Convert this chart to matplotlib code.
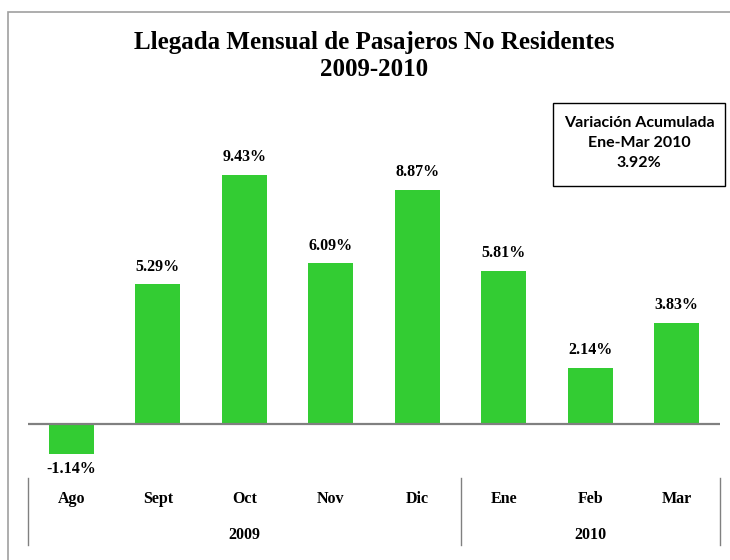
import numpy as np
import matplotlib
matplotlib.use("Agg")
import matplotlib.pyplot as plt
from matplotlib.patches import Rectangle

# data
months = ["Ago", "Sept", "Oct", "Nov", "Dic", "Ene", "Feb", "Mar"]
values = [-1.14, 5.29, 9.43, 6.09, 8.87, 5.81, 2.14, 3.83]
years = ["2009", "2010"]
year_span = [(0, 4), (5, 7)]
box_lines = ["Variación Acumulada", "Ene-Mar 2010", "3.92%"]

plt.rcParams['font.family'] = 'Liberation Serif'
plt.rcParams['font.weight'] = 'bold'

fig = plt.figure(figsize=(7.3, 5.6), dpi=100)
ax = fig.add_axes([28/730, 1-470/560, (720-28)/730, 370/560])

x = np.arange(len(months))
ax.bar(x, values, width=0.52, color="#33CC33", zorder=2)
ax.axhline(0, color="#808080", lw=1.6, zorder=3)

for xi, v in zip(x, values):
    if v >= 0:
        ax.annotate("{:.2f}%".format(v), (xi, v), xytext=(0, 7), textcoords="offset points",
                    ha="center", va="bottom", fontsize=11.5, fontweight="bold")
    else:
        ax.annotate("{:.2f}%".format(v), (xi, v), xytext=(0, -5), textcoords="offset points",
                    ha="center", va="top", fontsize=11.5, fontweight="bold")

ax.set_xlim(-0.5, len(months) - 0.5)
ax.set_ylim(-(470-424)/26.4, (424-100)/26.4)
for s in ax.spines.values():
    s.set_visible(False)
ax.set_xticks([])
ax.set_yticks([])

# category axis labels
trans = ax.get_xaxis_transform()
for xi, m in zip(x, months):
    ax.text(xi, -(499-470)/370, m, transform=trans, ha="center", va="center", fontsize=11.5, fontweight="bold")
for (a, b), yr in zip(year_span, years):
    ax.text((a + b) / 2, -(535-470)/370, yr, transform=trans, ha="center", va="center", fontsize=11.5, fontweight="bold")
for sx in [-0.5, 4.5, 7.5]:
    ax.plot([sx, sx], [-0.0216, -0.2027], transform=trans, color="#808080", lw=1, clip_on=False)

# title
fig.text(374/730, 1-42/560, "Llegada Mensual de Pasajeros No Residentes", ha="center", va="center",
         fontsize=18, fontweight="bold")
fig.text(374/730, 1-70/560, "2009-2010", ha="center", va="center", fontsize=18, fontweight="bold")

# box
fig.patches.append(Rectangle((553/730, 1-186/560), (725-553)/730, 83/560, transform=fig.transFigure,
                             fill=False, edgecolor="black", lw=1))
fig.text(639/730, 1-143/560, "\n".join(box_lines), ha="center", va="center", fontsize=11.5,
         fontweight="bold", family="Lato", linespacing=1.55)

# chart border
fig.patches.append(Rectangle((8/730, -0.1), 1.0, 1.1 - 12/560, transform=fig.transFigure,
                             fill=False, edgecolor="#a0a0a0", lw=1.2))

fig.savefig("out.png", dpi=100)
